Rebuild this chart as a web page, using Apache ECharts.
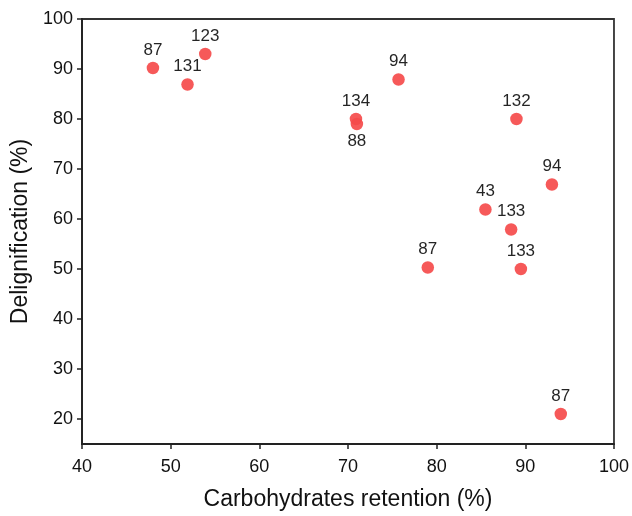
<!DOCTYPE html>
<html><head><meta charset="utf-8">
<script src="https://cdn.jsdelivr.net/npm/echarts@6/dist/echarts.min.js"></script>
<style>html,body{margin:0;padding:0;background:#fff}#c{width:632px;height:516px}</style>
</head><body><div id="c"></div>
<script>
const retention = [48.0, 51.9, 53.9, 75.7, 70.9, 71.0, 89.0, 93.0, 85.5, 88.4, 79.0, 89.5, 94.0];
const delignification = [90.2, 86.9, 93.0, 87.9, 80.0, 79.0, 80.0, 66.9, 61.9, 57.9, 50.3, 50.0, 21.0];
const refLabels = ['87', '131', '123', '94', '134', '88', '132', '94', '43', '133', '87', '133', '87'];
const labelBelowIndex = [5];
const yTicks = [20, 30, 40, 50, 60, 70, 80, 90, 100];

const data = retention.map((x, i) => {
  const item = { value: [x, delignification[i]], name: refLabels[i] };
  if (labelBelowIndex.includes(i)) item.label = { position: 'bottom', distance: 3 };
  return item;
});

const chart = echarts.init(document.getElementById('c'));
const font = 'Liberation Sans, Arial, sans-serif';
chart.setOption({
  animation: false,
  grid: { left: 82, right: 16, top: 19, bottom: 67, show: true, borderColor: '#333', borderWidth: 1.8, containLabel: false },
  xAxis: {
    type: 'value', min: 40, max: 100, interval: 10,
    name: 'Carbohydrates retention (%)', nameLocation: 'middle', nameGap: 44,
    nameTextStyle: { fontSize: 23, color: '#111', fontFamily: font },
    axisLine: { lineStyle: { color: '#222', width: 1.8 } },
    axisTick: { show: true, length: 5, lineStyle: { color: '#222', width: 1.5 } },
    axisLabel: { fontSize: 18, color: '#111', fontFamily: font, margin: 14 },
    splitLine: { show: false }
  },
  yAxis: {
    type: 'value', min: 15, max: 100,
    name: 'Delignification (%)', nameLocation: 'middle', nameGap: 47,
    nameTextStyle: { fontSize: 23, color: '#111', fontFamily: font },
    axisLine: { lineStyle: { color: '#222', width: 1.8 } },
    axisTick: { show: true, length: 5, customValues: yTicks, lineStyle: { color: '#222', width: 1.5 } },
    axisLabel: { fontSize: 18, color: '#111', fontFamily: font, margin: 9, customValues: yTicks },
    splitLine: { show: false }
  },
  series: [{
    type: 'scatter',
    symbolSize: 12.5,
    itemStyle: { color: '#f54b4b', opacity: 0.92 },
    label: { show: true, position: 'top', distance: 3, formatter: p => p.name, fontSize: 17, color: '#111', fontFamily: font },
    data: data
  }]
});
</script></body></html>
